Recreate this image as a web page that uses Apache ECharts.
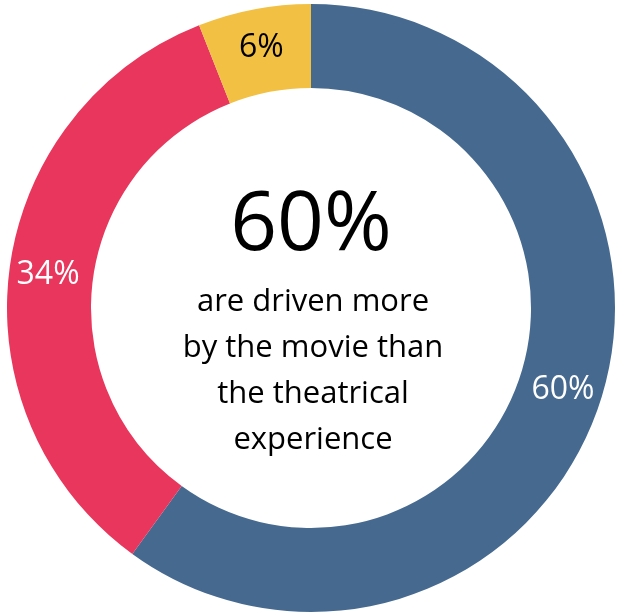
<!DOCTYPE html>
<html>
<head>
<meta charset="utf-8">
<script src="https://cdn.jsdelivr.net/npm/echarts@6/dist/echarts.min.js"></script>
<style>
html,body{margin:0;padding:0;background:#fff;}
#chart{width:618px;height:613px;}
</style>
</head>
<body>
<div id="chart"></div>
<script>
const categories = ["Driven more by the movie", "Driven more by the theatrical experience", "Other"];
const values = [60, 34, 6];
const colors = ["#46698F", "#E8365C", "#F2C043"];
const labelColors = ["#ffffff", "#ffffff", "#000000"];
const headline = "60%";
const captionLines = ["are driven more", "by the movie than", "the theatrical", "experience"];

const chart = echarts.init(document.getElementById('chart'), null, {renderer: 'canvas'});
chart.setOption({
  animation: false,
  backgroundColor: '#ffffff',
  series: [{
    type: 'pie',
    center: [311, 308],
    radius: [220, 304],
    startAngle: 90,
    clockwise: true,
    silent: true,
    avoidLabelOverlap: false,
    label: {
      show: true,
      position: 'inside',
      fontFamily: 'Open Sans',
      fontSize: 32,
      formatter: '{c}%'
    },
    labelLine: {show: false},
    data: categories.map((name, i) => ({
      name: name,
      value: values[i],
      itemStyle: {color: colors[i]},
      label: {color: labelColors[i]}
    }))
  }],
  graphic: [
    {
      type: 'text',
      x: 311, y: 227,
      style: {
        text: headline,
        fontFamily: 'Open Sans',
        fontSize: 82,
        fill: '#000000',
        textAlign: 'center',
        textVerticalAlign: 'middle'
      }
    },
    {
      type: 'text',
      x: 313, y: 371,
      style: {
        text: captionLines.join('\n'),
        fontFamily: 'Open Sans',
        fontSize: 31,
        lineHeight: 46,
        fill: '#000000',
        textAlign: 'center',
        textVerticalAlign: 'middle'
      }
    }
  ]
});
</script>
</body>
</html>
